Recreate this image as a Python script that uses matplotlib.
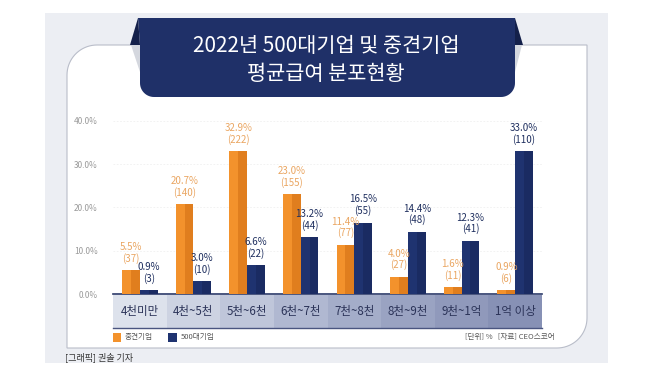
import numpy as np
import matplotlib
matplotlib.use("Agg")
import matplotlib.pyplot as plt
from matplotlib.patches import Polygon, Rectangle

plt.rcParams['font.family'] = ['Noto Sans CJK KR', 'DejaVu Sans']

categories = ['4천미만', '4천~5천', '5천~6천', '6천~7천', '7천~8천', '8천~9천', '9천~1억', '1억 이상']
mid_pct = [5.5, 20.7, 32.9, 23.0, 11.4, 4.0, 1.6, 0.9]
mid_cnt = [37, 140, 222, 155, 77, 27, 11, 6]
top_pct = [0.9, 3.0, 6.6, 13.2, 16.5, 14.4, 12.3, 33.0]
top_cnt = [3, 10, 22, 44, 55, 48, 41, 110]
yticks = [0, 10, 20, 30, 40]
series_names = ['중견기업', '500대기업']
title = '2022년 500대기업 및 중견기업\n평균급여 분포현황'

W, H = 658, 374
fig = plt.figure(figsize=(W / 100, H / 100), dpi=100)
fig.patch.set_facecolor('white')

# background decoration axes in pixel coords
bg = fig.add_axes([0, 0, 1, 1])
bg.set_xlim(0, W)
bg.set_ylim(H, 0)
bg.axis('off')

bg.add_patch(Rectangle((45, 13), 563, 350, facecolor='#eceef3', edgecolor='none'))

def panel_path(x0, y0, x1, y1, r):
    pts = []
    th = np.linspace(np.pi, 1.5 * np.pi, 20)
    pts += list(zip(x0 + r + r * np.cos(th), y0 + r + r * np.sin(th)))
    pts.append((x1, y0))
    th = np.linspace(0, 0.5 * np.pi, 20)
    pts += list(zip(x1 - r + r * np.cos(th), y1 - r + r * np.sin(th)))
    pts.append((x0, y1))
    return pts

bg.add_patch(Polygon(panel_path(67, 45, 587, 348, 30), closed=True,
                     facecolor='white', edgecolor='#b9bdc9', linewidth=0.8))

# banner
navy = '#1f3068'
# subtle shadows under the folds
bg.add_patch(Polygon([(131, 45), (140, 45), (140, 72)], closed=True,
                     facecolor='#d4d7de', edgecolor='none'))
bg.add_patch(Polygon([(522, 45), (515, 45), (515, 72)], closed=True,
                     facecolor='#d4d7de', edgecolor='none'))
r = 14
bpts = [(138, 18), (515, 18), (515, 97 - r)]
th = np.linspace(0, 0.5 * np.pi, 15)
bpts += list(zip(515 - r + r * np.cos(th), 97 - r + r * np.sin(th)))
th = np.linspace(0.5 * np.pi, np.pi, 15)
bpts += list(zip(140 + r + r * np.cos(th), 97 - r + r * np.sin(th)))
bpts += [(140, 45)]
bg.add_patch(Polygon(bpts, closed=True, facecolor=navy, edgecolor='none'))
bg.add_patch(Polygon([(138, 18), (130, 45), (140, 45)], closed=True, facecolor='#14204a', edgecolor='none'))
bg.add_patch(Polygon([(515, 18), (523, 45), (515, 45)], closed=True, facecolor='#14204a', edgecolor='none'))
bg.text(326, 60, title, ha='center', va='center', color='white', fontsize=15,
        fontweight='medium', linespacing=1.3)

# category band
x_left, x_right = 113, 542
band_cols = ['#dde2ec', '#cdd3e2', '#bfc6da', '#b0b8d1', '#a4adc9', '#9aa3c2', '#9099bb', '#8791b5']
n = len(categories)
cw = (x_right - x_left) / n
for i, c in enumerate(categories):
    bg.add_patch(Rectangle((x_left + i * cw, 295), cw, 33, facecolor=band_cols[i], edgecolor='none'))
    bg.text(x_left + (i + 0.5) * cw, 311.5, c, ha='center', va='center', fontsize=8.3, color='#2b3358')
bg.plot([x_left, x_right], [328, 328], color='#4a5580', lw=1.0)

# legend
orange = '#f3922c'
orange_dk = '#e07e1e'
navy_bar = '#1f3370'
navy_dk = '#1a2b62'
bg.add_patch(Rectangle((113, 333), 8, 9, facecolor=orange, edgecolor='none'))
bg.text(125, 337.5, series_names[0], ha='left', va='center', fontsize=5.5, color='#555555')
bg.add_patch(Rectangle((168, 333), 9, 9, facecolor=navy_bar, edgecolor='none'))
bg.text(181, 337.5, series_names[1], ha='left', va='center', fontsize=5.5, color='#555555')
bg.text(555, 337.5, '[단위] %   [자료] CEO스코어', ha='right', va='center', fontsize=5.5, color='#555555')
bg.text(65, 357, '[그래픽] 권솔 기자', ha='left', va='center', fontsize=6.5, color='#333333')

# main axes
ax = fig.add_axes([x_left / W, 1 - 294 / H, (x_right - x_left) / W, (294 - 120.7) / H])
ax.set_facecolor('none')
ax.set_xlim(-0.5, n - 0.5)
ax.set_ylim(0, 40)
x = np.arange(n)
bw = 0.33
ax.bar(x - bw / 2, mid_pct, width=bw, color=orange, zorder=3)
ax.bar(x - bw / 2, mid_pct, width=bw / 2, align='edge', color=orange_dk, zorder=3)
ax.bar(x + bw / 2, top_pct, width=bw, color=navy_bar, zorder=3)
ax.bar(x + bw / 2, top_pct, width=bw / 2, align='edge', color=navy_dk, zorder=3)

for i in range(n):
    ax.annotate(f'{mid_pct[i]:.1f}%\n({mid_cnt[i]})', (x[i] - bw / 2, mid_pct[i]),
                xytext=(0, 4.5), textcoords='offset points', ha='center', va='bottom',
                fontsize=7, color='#eaa662', linespacing=1.1, annotation_clip=False)
    ax.annotate(f'{top_pct[i]:.1f}%\n({top_cnt[i]})', (x[i] + bw / 2, top_pct[i]),
                xytext=(0, 4.5), textcoords='offset points', ha='center', va='bottom',
                fontsize=7, color='#1f2f5f', linespacing=1.1, annotation_clip=False)

ax.set_yticks(yticks)
ax.set_yticklabels([f'{v:.1f}%' for v in yticks], fontsize=6, color='#9a9a9a')
ax.tick_params(axis='y', length=0, pad=11)
ax.set_xticks([])
for s in ['top', 'right', 'left']:
    ax.spines[s].set_visible(False)
ax.spines['bottom'].set_color('#2a3868')
ax.spines['bottom'].set_linewidth(1.2)
ax.grid(axis='y', color='#f0f0f0', linewidth=0.6, linestyle=(0, (2, 2)), zorder=0)

fig.savefig('out.png', dpi=100)
